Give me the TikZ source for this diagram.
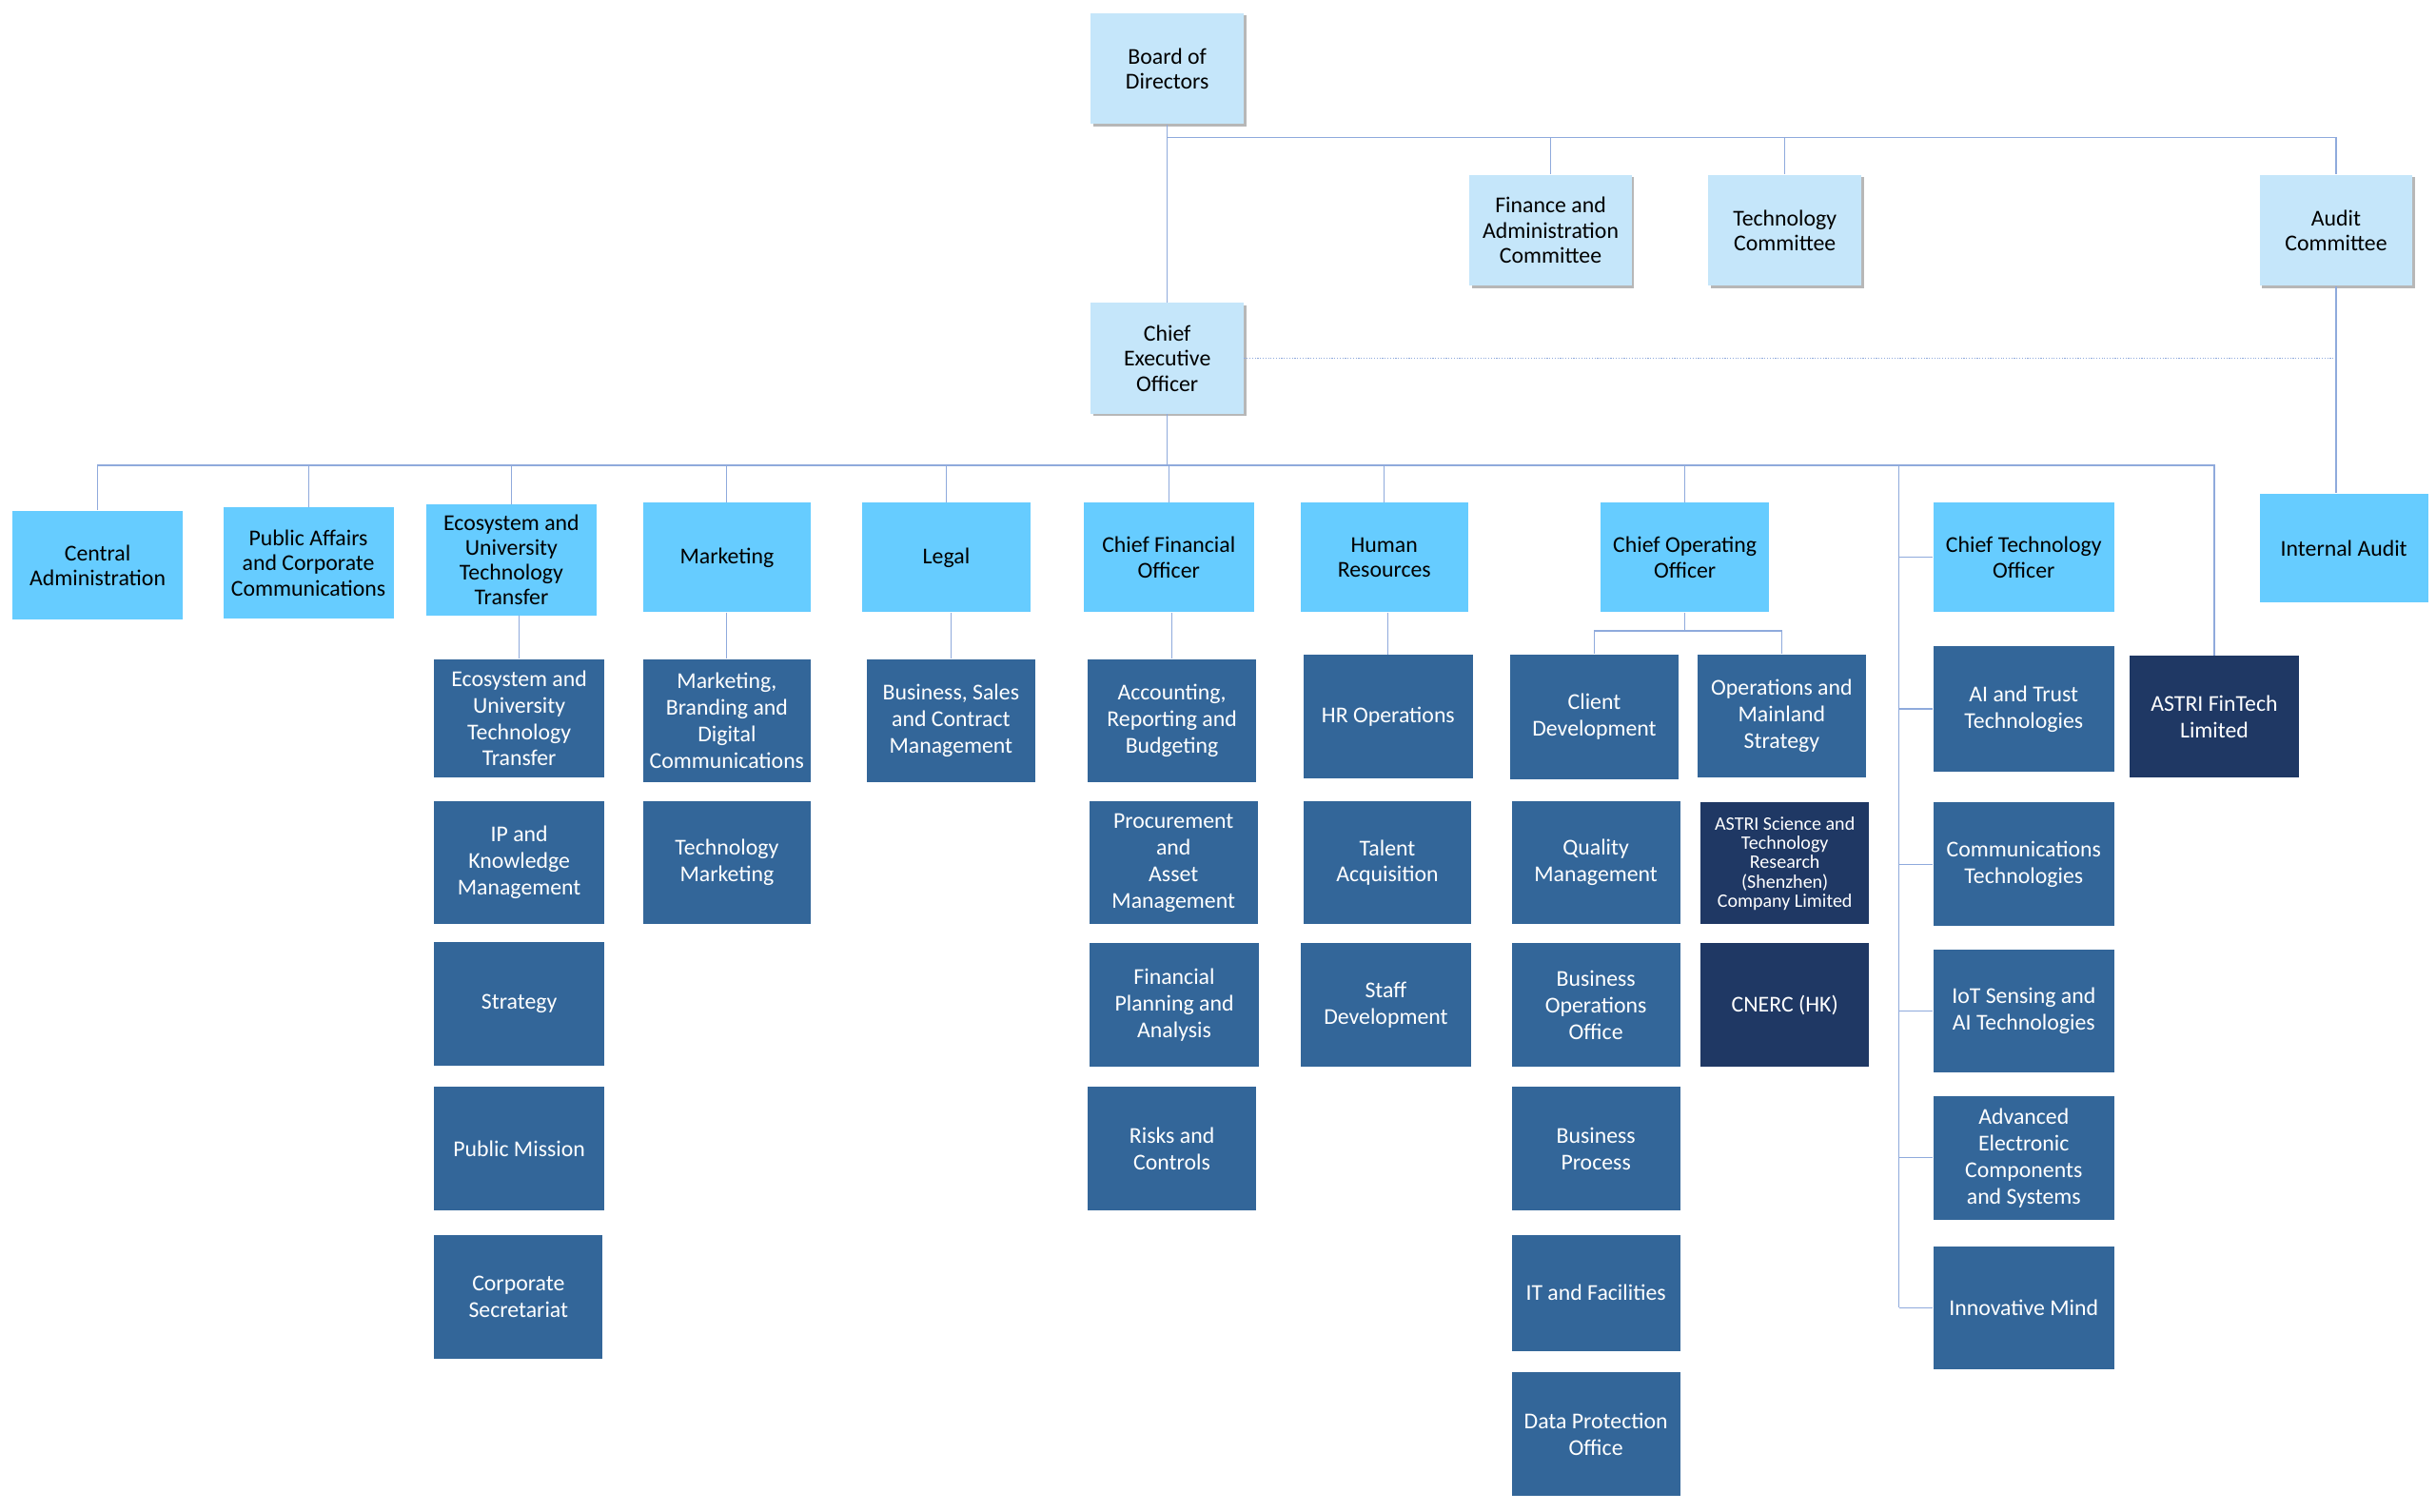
\documentclass[tikz,border=0pt]{standalone}
\usepackage{fontspec}
\setmainfont{Carlito}
\usetikzlibrary{shadows}
\definecolor{boardblue}{HTML}{C5E6FA}
\definecolor{headblue}{HTML}{66CCFF}
\definecolor{unitblue}{HTML}{336699}
\definecolor{subsnavy}{HTML}{1F3864}
\definecolor{linkblue}{HTML}{8FAADC}
\begin{document}
\begin{tikzpicture}[x=1pt,y=-1pt,
        board/.style={fill=boardblue,minimum width=98pt,minimum height=71pt,align=center,inner sep=0pt,
            font=\fontsize{14.5}{16}\selectfont,
            drop shadow={shadow xshift=1.5pt,shadow yshift=-1.5pt,opacity=0.4,fill=black!70}},
        head/.style={fill=headblue,minimum width=108pt,minimum height=70pt,align=center,inner sep=0pt,
            font=\fontsize{14.5}{16}\selectfont},
        unit/.style={fill=unitblue,text=white,minimum width=108pt,minimum height=79pt,align=center,inner sep=0pt,
            font=\fontsize{14.5}{17}\selectfont},
        subs/.style={unit,fill=subsnavy},
        link/.style={draw=linkblue,line width=0.7pt}]
            \useasboundingbox (0,0) rectangle (1560,968);

            \node[board] (board) at (747.5,44) {Board of\\Directors};
            \node[board,minimum width=104pt] (fac) at (993,147.5) {Finance and\\Administration\\Committee};
            \node[board] (tc) at (1143,147.5) {Technology\\Committee};
            \node[board] (ac) at (1496,147.5) {Audit\\Committee};
            \node[board] (ceo) at (747.5,229.5) {Chief\\Executive\\Officer};

            \node[head,minimum width=109pt] (ca) at (62.5,362) {Central\\Administration};
            \node[head,minimum width=109pt,minimum height=71pt] (pa) at (197.5,360.5) {Public Affairs\\and Corporate\\Communications};
            \node[head,minimum width=109pt,minimum height=71pt] (eut) at (327.5,358.5) {Ecosystem and\\University\\Technology\\Transfer};
            \node[head,minimum width=107pt] (mkt) at (465.5,357) {Marketing};
            \node[head] (lgl) at (606,357) {Legal};
            \node[head,minimum width=109pt] (cfo) at (748.5,357) {Chief Financial\\Officer};
            \node[head,minimum width=107pt] (hr) at (886.5,357) {Human\\Resources};
            \node[head] (coo) at (1079,357) {Chief Operating\\Officer};
            \node[head,minimum width=116pt] (cto) at (1296,357) {Chief Technology\\Officer};
            \node[head] (ia) at (1501,351) {Internal Audit};

            \node[unit,minimum width=109pt,minimum height=76pt] (eut1) at (332.5,460) {Ecosystem and\\University\\Technology\\Transfer};
            \node[unit,minimum width=109pt] (ipk) at (332.5,552.5) {IP and\\Knowledge\\Management};
            \node[unit,minimum width=109pt] (str) at (332.5,643) {Strategy};
            \node[unit,minimum width=109pt] (pm) at (332.5,735.5) {Public Mission};
            \node[unit] (cs) at (332,830.5) {Corporate\\Secretariat};

            \node[unit,minimum width=107pt] (mbd) at (465.5,461.5) {Marketing,\\Branding and\\Digital\\Communications};
            \node[unit,minimum width=107pt] (tm) at (465.5,552.5) {Technology\\Marketing};

            \node[unit] (bscm) at (609,461.5) {Business, Sales\\and Contract\\Management};

            \node[unit] (arb) at (750.5,461.5) {Accounting,\\Reporting and\\Budgeting};
            \node[unit] (paam) at (751.5,552.5) {Procurement\\and\\Asset\\Management};
            \node[unit] (fpa) at (752,643.5) {Financial\\Planning and\\Analysis};
            \node[unit] (rc) at (750.5,735.5) {Risks and\\Controls};

            \node[unit] (hro) at (889,459) {HR Operations};
            \node[unit,minimum width=107pt] (ta) at (888.5,552.5) {Talent\\Acquisition};
            \node[unit,minimum width=109pt] (sd) at (887.5,643.5) {Staff\\Development};

            \node[unit,minimum height=80pt] (cd) at (1021,459) {Client\\Development};
            \node[unit] (qm) at (1022,552.5) {Quality\\Management};
            \node[unit] (boo) at (1022,643.5) {Business\\Operations\\Office};
            \node[unit] (bp) at (1022,735.5) {Business\\Process};
            \node[unit,minimum height=74pt] (itf) at (1022,828) {IT and Facilities};
            \node[unit] (dpo) at (1022,918.5) {Data Protection\\Office};

            \node[unit] (oms) at (1141,458.5) {Operations and\\Mainland\\Strategy};
            \node[subs,minimum height=78pt,font=\fontsize{12.2}{12.4}\selectfont] (astrisz) at (1143,553) {ASTRI Science and\\Technology\\Research\\(Shenzhen)\\Company Limited};
            \node[subs] (cnerc) at (1143,643.5) {CNERC (HK)};

            \node[unit,minimum width=116pt,minimum height=80pt] (ait) at (1296,454) {AI and Trust\\Technologies};
            \node[unit,minimum width=116pt] (comt) at (1296,553.5) {Communications\\Technologies};
            \node[unit,minimum width=116pt] (iot) at (1296,647.5) {IoT Sensing and\\AI Technologies};
            \node[unit,minimum width=116pt] (aecs) at (1296,741.5) {Advanced\\Electronic\\Components\\and Systems};
            \node[unit,minimum width=116pt] (im) at (1296,837.5) {Innovative Mind};

            \node[subs,minimum height=78pt] (fintech) at (1418,459) {ASTRI FinTech\\Limited};

            \coordinate (topbus) at (747.5,88);
            \coordinate (midbus) at (747.5,298);
            \coordinate (ctoend) at (1216,837.5);
            \coordinate (coobr) at (1079,404);

            \draw[link] (board) -- (ceo);
            \foreach \n in {fac,tc,ac}
            {
                \draw[link] (topbus) -| (\n.north);
            }
            \draw[link,densely dotted] (ceo.east) -- (ceo.east -| ac.south);
            \draw[link] (ac.south) -- (ac.south |- ia.north);

            \draw[link] (ceo) -- (midbus);
            \foreach \n in {ca,pa,eut,mkt,lgl,cfo,hr,coo,fintech}
            {
                \draw[link] (midbus) -| (\n.north);
            }
            \draw[link] (midbus) -| (ctoend);
            \foreach \n in {cto,ait,comt,iot,aecs,im}
            {
                \draw[link] (\n.west -| ctoend) -- (\n.west);
            }

            \foreach \a/\b in {eut/eut1,mkt/mbd,lgl/bscm,cfo/arb,hr/hro}
            {
                \draw[link] (\b.north |- \a.south) -- (\b.north);
            }
            \draw[link] (coo) -- (coobr);
            \draw[link] (coobr) -| (cd.north);
            \draw[link] (coobr) -| (oms.north);
\end{tikzpicture}
\end{document}
